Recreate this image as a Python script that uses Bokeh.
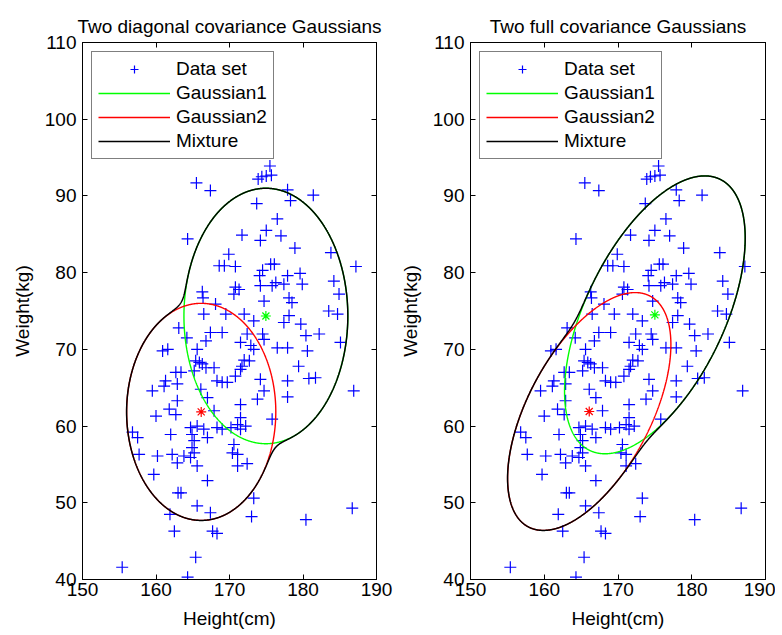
import numpy as np
import contourpy
from bokeh.plotting import figure
from bokeh.layouts import row
from bokeh.models import Legend, LegendItem, LinearAxis, FixedTicker, Range1d
from bokeh.embed import file_html
from bokeh.resources import INLINE

# ---------------- data ----------------
height_cm = [
    165.5, 167.4, 164.3, 168.6, 169.3, 166.3, 166.4,
    175.5, 175.7, 175.0, 174.4, 173.9, 177.9, 178.3, 181.4, 173.7, 176.5, 175.0, 171.7, 174.2,
    177.0, 178.9, 169.9, 183.8, 170.8, 187.2, 175.6, 176.1, 174.5, 174.1, 177.9, 179.6, 176.3,
    175.8, 177.4, 179.9, 184.2, 174.2, 170.8, 171.3, 170.6, 184.9, 174.7, 178.1, 178.5,
    183.5, 184.7, 178.1, 177.4, 179.7, 172.0, 173.3, 172.4, 174.5, 180.4, 182.2, 171.5, 174.7,
    185.1, 172.9, 173.3, 176.5, 177.9, 180.6, 172.0, 172.7, 171.7, 179.4, 171.5, 170.8, 174.2,
    177.9, 180.8, 181.7, 186.9, 174.7, 173.8, 177.9, 171.5, 175.8, 171.5, 171.1, 172.2, 170.2,
    171.5, 170.6, 170.4, 171.1,
    166.5, 168.1, 169.5, 163.1, 164.2, 167.4, 169.0, 166.8, 160.9, 161.6, 165.6, 165.4, 165.9,
    166.3, 166.8, 167.9, 163.4, 162.7, 165.2, 168.3, 169.0, 169.7, 161.3, 161.1, 159.5, 162.9,
    166.1, 162.9, 167.0, 167.9, 161.8, 162.7, 160.0, 164.7, 165.6, 166.5, 168.3, 169.0, 156.8,
    157.5, 162.0, 164.9, 165.2, 167.0, 164.9, 165.2, 157.7, 160.2, 162.2, 163.8, 164.7,
    162.9, 165.6, 159.7, 167.0, 163.0, 163.4, 165.6, 167.4, 161.9, 162.5, 167.7, 168.3, 165.4,
    155.4, 164.3,
    171.1, 172.4, 173.3, 173.0, 180.4, 186.7,
]
weight_kg = [
    91.7, 90.7, 84.4, 80.9, 80.9, 77.5, 76.7,
    93.9, 92.7, 92.6, 92.5, 92.2, 90.8, 89.4, 90.1, 89.0, 87.0, 85.5, 84.9, 84.2,
    84.8, 83.2, 82.4, 82.6, 80.8, 80.8, 81.1, 81.1, 80.3, 79.6, 79.6, 79.9, 78.7,
    78.3, 78.5, 78.5, 78.9, 78.3, 78.1, 77.8, 77.2, 77.2, 76.3, 76.7, 76.1,
    75.0, 74.6, 74.4, 73.5, 73.3, 74.6, 73.7, 72.0, 72.0, 71.8, 72.0, 70.9, 71.3,
    70.9, 70.5, 70.0, 70.2, 70.2, 69.8, 68.6, 68.5, 67.8, 67.8, 67.4, 66.5, 66.1,
    65.9, 66.2, 66.3, 64.6, 64.6, 63.5, 63.8, 62.8, 60.9, 61.1, 60.2, 60.0, 59.8,
    59.6, 57.6, 56.5, 56.3,
    74.6, 75.9, 74.6, 72.8, 71.5, 72.2, 72.2, 71.1, 69.8, 70.0, 70.0, 68.5, 68.3,
    68.1, 67.6, 67.6, 67.0, 67.0, 67.2, 65.9, 65.7, 65.7, 65.9, 65.2, 64.6, 65.5,
    64.8, 63.3, 63.7, 62.0, 62.2, 61.5, 61.3, 59.8, 60.0, 59.6, 59.8, 59.6, 59.2,
    58.5, 58.9, 58.9, 58.1, 58.5, 57.2, 56.5, 56.3, 56.1, 56.3, 56.1, 55.9,
    55.2, 54.8, 53.7, 52.9, 51.3, 51.3, 49.6, 48.7, 48.5, 46.3, 46.3, 46.0, 42.9,
    41.6, 40.3,
    54.8, 55.1, 50.6, 48.2, 47.8, 49.3,
]

x_ticks = [150, 160, 170, 180, 190]
y_ticks = [40, 50, 60, 70, 80, 90, 100, 110]

titles = ["Two diagonal covariance Gaussians", "Two full covariance Gaussians"]
legend_labels = ["Data set", "Gaussian1", "Gaussian2", "Mixture"]

# Gaussian components: means and shape matrices of the drawn contour
diag_mu1 = [174.95, 74.35]
diag_S1 = [[124.3, 0.0], [0.0, 277.2]]
diag_mu2 = [166.15, 61.85]
diag_S2 = [[103.0, 0.0], [0.0, 200.2]]

full_mu1 = [175.0, 74.5]
full_S1 = [[150.0, 122.5], [122.5, 328.0]]
full_mu2 = [166.1, 61.9]
full_S2 = [[122.6, 96.5], [96.5, 240.3]]

contour_radius = 4.0

FONT = "Liberation Sans"
FS = "19px"
BLUE, GREEN, RED, BLACK = "#0000ff", "#00ff00", "#ff0000", "#000000"

gx = np.linspace(145, 195, 1001)
gy = np.linspace(35, 115, 1601)
GX, GY = np.meshgrid(gx, gy)


def density(mu, S, R):
    cov = np.array(S, dtype=float) / R ** 2
    inv = np.linalg.inv(cov)
    dx = GX - mu[0]
    dy = GY - mu[1]
    q = inv[0, 0] * dx * dx + 2 * inv[0, 1] * dx * dy + inv[1, 1] * dy * dy
    sdet = np.sqrt(np.linalg.det(cov))
    return np.exp(-q / 2) / (2 * np.pi * sdet), sdet


def contour_lines(Z, level):
    gen = contourpy.contour_generator(gx, gy, Z)
    return gen.lines(level)


def make_panel(title, mu1, S1, mu2, S2, bl, br, fw):
    p = figure(frame_width=fw, frame_height=537,
               x_range=Range1d(150, 190), y_range=Range1d(40, 110),
               output_backend="svg", toolbar_location=None,
               min_border_left=bl, min_border_right=br,
               min_border_top=42, min_border_bottom=55,
               title=title)
    p.title.align = "center"
    p.title.text_font = FONT
    p.title.text_font_size = FS
    p.title.text_font_style = "normal"
    p.title.text_color = BLACK
    p.title.standoff = 12
    p.grid.visible = False
    p.outline_line_color = BLACK
    p.outline_line_width = 1
    p.background_fill_color = "white"
    p.border_fill_color = "white"

    for ax in (p.xaxis[0], p.yaxis[0]):
        ax.major_tick_in = 5
        ax.major_tick_out = 0
        ax.minor_tick_line_color = None
        ax.axis_line_color = BLACK
        ax.major_tick_line_color = BLACK
        ax.major_label_text_font = FONT
        ax.major_label_text_font_size = FS
        ax.major_label_text_color = BLACK
        ax.axis_label_text_font = FONT
        ax.axis_label_text_font_size = FS
        ax.axis_label_text_font_style = "normal"
        ax.axis_label_text_color = BLACK
    p.xaxis.ticker = FixedTicker(ticks=x_ticks)
    p.yaxis.ticker = FixedTicker(ticks=y_ticks)
    p.xaxis.axis_label = "Height(cm)"
    p.yaxis.axis_label = "Weight(kg)"
    p.xaxis.major_label_standoff = 3
    p.xaxis.axis_label_standoff = 9
    p.yaxis.major_label_standoff = 6
    p.yaxis.axis_label_standoff = 9

    top = LinearAxis(ticker=FixedTicker(ticks=x_ticks),
                     major_label_overrides={t: "" for t in x_ticks},
                     major_tick_in=5, major_tick_out=0, minor_tick_line_color=None,
                     major_label_standoff=0, axis_line_color=BLACK)
    rgt = LinearAxis(ticker=FixedTicker(ticks=y_ticks),
                     major_label_overrides={t: "" for t in y_ticks},
                     major_tick_in=5, major_tick_out=0, minor_tick_line_color=None,
                     major_label_standoff=0, axis_line_color=BLACK)
    p.add_layout(top, "above")
    p.add_layout(rgt, "right")

    r_data = p.scatter(height_cm, weight_kg, marker="cross", size=12,
                       line_color=BLUE, line_width=1.2)

    N1, s1 = density(mu1, S1, contour_radius)
    N2, s2 = density(mu2, S2, contour_radius)
    w1 = s1 / (s1 + s2)
    w2 = s2 / (s1 + s2)
    level = np.exp(-contour_radius ** 2 / 2) / (2 * np.pi * (s1 + s2))
    Z1 = w1 * N1
    Z2 = w2 * N2
    Zm = Z1 + Z2

    rends = {}
    for key, Z, col, lw in (("g1", Z1, GREEN, 1.4), ("g2", Z2, RED, 1.4), ("mix", Zm, BLACK, 1.5)):
        rs = []
        for seg in contour_lines(Z, level):
            rs.append(p.line(seg[:, 0], seg[:, 1], line_color=col, line_width=lw))
        rends[key] = rs

    p.scatter([mu1[0]], [mu1[1]], marker="asterisk", size=10, line_color=GREEN, line_width=1.2)
    p.scatter([mu2[0]], [mu2[1]], marker="asterisk", size=10, line_color=RED, line_width=1.2)

    legend = Legend(items=[
        LegendItem(label=legend_labels[0], renderers=[r_data]),
        LegendItem(label=legend_labels[1], renderers=rends["g1"][:1]),
        LegendItem(label=legend_labels[2], renderers=rends["g2"][:1]),
        LegendItem(label=legend_labels[3], renderers=rends["mix"][:1]),
    ], location="top_left")
    legend.label_text_font = FONT
    legend.label_text_font_size = FS
    legend.label_text_color = BLACK
    legend.glyph_width = 72
    legend.glyph_height = 20
    legend.label_height = 20
    legend.spacing = 2
    legend.padding = 6
    legend.margin = 9
    legend.label_standoff = 6
    legend.border_line_color = BLACK
    legend.border_line_width = 1
    legend.background_fill_color = "white"
    legend.background_fill_alpha = 1
    p.add_layout(legend)
    return p


p1 = make_panel(titles[0], diag_mu1, diag_S1, diag_mu2, diag_S2, 82, 20, 294)
p2 = make_panel(titles[1], full_mu1, full_S1, full_mu2, full_S2, 73, 10, 295)

layout = row(p1, p2)
open("out.html", "w").write(file_html(layout, INLINE))
